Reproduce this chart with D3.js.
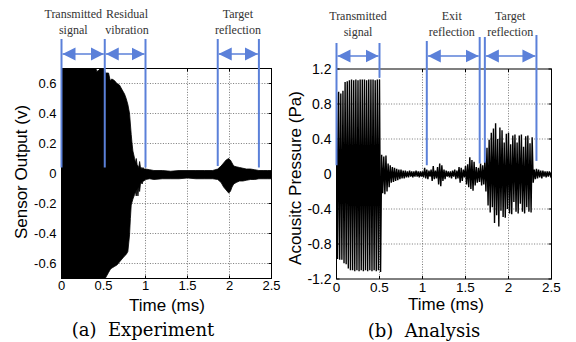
<!DOCTYPE html>
<html><head><meta charset="utf-8">
<script src="https://cdn.jsdelivr.net/npm/d3@7/dist/d3.min.js"></script>
<style>
html,body{margin:0;padding:0;background:#fff;}
svg{display:block;}
</style></head>
<body>
<svg id="chart" width="576" height="342"></svg>
<script>
// ---------- DATA ----------
// (a) Experiment: envelope of the sensor output (V) vs time (ms)
const expTime  = [0,0.40,0.42,0.45,0.47,0.50,0.52,0.56,0.58,0.60,0.63,0.66,0.69,0.72,0.75,0.77,0.79,0.81,0.82,0.83,0.84,0.85,0.87,0.88,0.89,0.90,0.91,0.92,0.93,0.94,0.95,0.96,0.97,0.98,1.00,1.05,1.10,1.20,1.30,1.40,1.50,1.60,1.70,1.80,1.86,1.90,1.93,1.96,1.99,2.01,2.03,2.05,2.08,2.12,2.16,2.20,2.25,2.30,2.35,2.40,2.45,2.50];
const expUpper = [0.72,0.72,0.68,0.69,0.72,0.72,0.67,0.67,0.62,0.63,0.62,0.60,0.59,0.56,0.53,0.50,0.46,0.40,0.33,0.26,0.20,0.15,0.10,0.07,0.10,0.06,0.05,0.04,0.08,0.04,0.04,0.03,0.04,0.03,0.03,0.025,0.02,0.02,0.015,0.02,0.02,0.02,0.02,0.02,0.03,0.05,0.07,0.09,0.10,0.09,0.07,0.05,0.045,0.04,0.035,0.03,0.03,0.025,0.02,0.02,0.02,0.02];
const expLower = [-0.72,-0.72,-0.72,-0.72,-0.72,-0.72,-0.70,-0.66,-0.64,-0.63,-0.62,-0.61,-0.59,-0.57,-0.55,-0.54,-0.52,-0.41,-0.30,-0.21,-0.19,-0.17,-0.14,-0.12,-0.15,-0.10,-0.15,-0.09,-0.12,-0.07,-0.06,-0.07,-0.05,-0.05,-0.04,-0.035,-0.04,-0.035,-0.035,-0.035,-0.03,-0.035,-0.035,-0.035,-0.04,-0.06,-0.09,-0.11,-0.13,-0.12,-0.09,-0.07,-0.06,-0.05,-0.05,-0.045,-0.04,-0.04,-0.035,-0.035,-0.035,-0.035];

// (b) Analysis: successive half-cycle peaks of acoustic pressure (Pa), one every 0.0125 ms
const pressureStep = 0.0125;
const pressure = [
 0.93,-0.97,0.94,-0.98,0.92,-0.98,0.95,-1.02,1.05,-1.03,1.06,-1.08,1.07,-1.10,1.08,-1.10,1.07,-1.11,1.08,-1.10,
 1.07,-1.11,1.08,-1.10,1.08,-1.11,1.08,-1.10,1.07,-1.11,1.08,-1.10,1.08,-1.11,1.08,-1.10,1.07,-1.11,1.08,-1.10,
 1.08,-1.12,0.22,-0.22,0.20,-0.23,0.21,-0.20,0.12,-0.15,0.10,-0.10,0.08,-0.09,0.07,-0.08,0.06,-0.07,0.05,-0.06,
 0.05,-0.05,0.04,-0.05,0.04,-0.04,0.03,-0.04,0.04,-0.03,0.03,-0.04,0.03,-0.03,0.04,-0.03,0.03,-0.04,0.03,-0.03,
 0.03,-0.04,0.07,-0.05,0.05,-0.06,0.04,-0.03,0.05,-0.08,0.09,-0.06,0.04,-0.05,0.08,-0.12,0.12,-0.14,0.10,-0.08,
 0.05,-0.06,0.04,-0.03,0.03,-0.04,0.03,-0.05,0.04,-0.03,0.05,-0.06,0.04,-0.05,0.08,-0.10,0.07,-0.08,0.05,-0.04,
 0.09,-0.12,0.11,-0.15,0.19,-0.17,0.16,-0.19,0.14,-0.13,0.08,-0.10,0.07,-0.09,0.12,-0.13,0.10,-0.12,0.15,-0.20,
 0.30,-0.36,0.39,-0.44,0.47,-0.38,0.52,-0.56,0.58,-0.47,0.40,-0.60,0.53,-0.42,0.50,-0.49,0.36,-0.50,0.46,-0.40,
 0.47,-0.45,0.34,-0.46,0.44,-0.32,0.45,-0.43,0.36,-0.45,0.44,-0.34,0.45,-0.43,0.31,-0.45,0.43,-0.38,0.44,-0.43,
 0.35,-0.44,0.42,-0.10,0.05,-0.06,0.06,-0.05,0.05,-0.04,0.04,-0.05,0.04,-0.03,0.03,-0.04,0.03,-0.03,0.03,-0.02,
 0.02
];

const xTicks = [0, 0.5, 1, 1.5, 2, 2.5];
const xTickLabels = ["0", "0.5", "1", "1.5", "2", "2.5"];
const expYTicks = [0.6, 0.4, 0.2, 0, -0.2, -0.4, -0.6];
const expYTickLabels = ["0.6", "0.4", "0.2", "0", "-0.2", "-0.4", "-0.6"];
const anaYTicks = [1.2, 0.8, 0.4, 0, -0.4, -0.8, -1.2];
const anaYTickLabels = ["1.2", "0.8", "0.4", "0", "-0.4", "-0.8", "-1.2"];

// annotation markers (time, ms) and labelled spans
const expMarkers = [0, 0.515, 1.0, 1.86, 2.35];
const expSpans = [[0, 0.515], [0.515, 1.0], [1.86, 2.35]];
const expSpanLabels = [["Transmitted", "signal"], ["Residual", "vibration"], ["Target", "reflection"]];
const expLabelTimes = [0.14, 0.78, 2.1];
const anaMarkers = [0, 0.5, 1.05, 1.665, 1.725, 2.325];
const anaSpans = [[0, 0.5], [1.05, 1.665], [1.725, 2.325]];
const anaSpanLabels = [["Transmitted", "signal"], ["Exit", "reflection"], ["Target", "reflection"]];
const anaLabelTimes = [0.25, 1.34, 2.02];

const captions = ["(a)  Experiment", "(b)  Analysis"];
const yTitles = ["Sensor Output (v)", "Acousitc Pressure (Pa)"];
const xTitle = "Time (ms)";

// ---------- DRAW ----------
const svg = d3.select("#chart");
const SANS = "'Liberation Sans', Arial, sans-serif";
const BLUE = "#5b80d9";

svg.append("defs").html(
  '<marker id="ah" viewBox="0 0 10 10" refX="10" refY="5" markerWidth="13" markerHeight="16" markerUnits="userSpaceOnUse" orient="auto-start-reverse">' +
  '<path d="M0,0 L10,5 L0,10 Z" fill="' + BLUE + '"/></marker>');

function panel(cfg) {
  const x = d3.scaleLinear().domain([0, 2.5]).range([cfg.x0, cfg.x1]);
  const y = d3.scaleLinear().domain(cfg.yDomain).range([cfg.y1, cfg.y0]);
  const g = svg.append("g");
  const cid = "clip" + cfg.id;
  svg.select("defs").append("clipPath").attr("id", cid)
    .append("rect").attr("x", cfg.x0).attr("y", cfg.y0)
    .attr("width", cfg.x1 - cfg.x0).attr("height", cfg.y1 - cfg.y0);

  // grid
  const grid = g.append("g").attr("stroke", "#555").attr("stroke-width", 0.8).attr("stroke-dasharray", "1,1.6");
  xTicks.slice(1, -1).forEach(t => grid.append("line")
    .attr("x1", x(t)).attr("x2", x(t)).attr("y1", cfg.y0).attr("y2", cfg.y1));
  cfg.yTicks.forEach(v => {
    if (v > cfg.yDomain[0] && v < cfg.yDomain[1])
      grid.append("line").attr("x1", cfg.x0).attr("x2", cfg.x1).attr("y1", y(v)).attr("y2", y(v));
  });

  // data
  const dg = g.append("g").attr("clip-path", "url(#" + cid + ")");
  cfg.drawData(dg, x, y);

  // frame + inward ticks
  g.append("rect").attr("x", cfg.x0).attr("y", cfg.y0)
    .attr("width", cfg.x1 - cfg.x0).attr("height", cfg.y1 - cfg.y0)
    .attr("fill", "none").attr("stroke", "#000").attr("stroke-width", 1);
  const tk = g.append("g").attr("stroke", "#000").attr("stroke-width", 1);
  xTicks.forEach(t => {
    tk.append("line").attr("x1", x(t)).attr("x2", x(t)).attr("y1", cfg.y1).attr("y2", cfg.y1 - 3);
    tk.append("line").attr("x1", x(t)).attr("x2", x(t)).attr("y1", cfg.y0).attr("y2", cfg.y0 + 3);
  });
  cfg.yTicks.forEach(v => {
    tk.append("line").attr("x1", cfg.x0).attr("x2", cfg.x0 + 3).attr("y1", y(v)).attr("y2", y(v));
    tk.append("line").attr("x1", cfg.x1).attr("x2", cfg.x1 - 3).attr("y1", y(v)).attr("y2", y(v));
  });

  // tick labels
  const tl = g.append("g").attr("font-family", SANS).attr("fill", "#000");
  xTicks.forEach((t, i) => tl.append("text").attr("x", x(t)).attr("y", cfg.xLabelY)
    .attr("text-anchor", "middle").attr("font-size", cfg.xTickSize).text(xTickLabels[i]));
  cfg.yTicks.forEach((v, i) => tl.append("text").attr("x", cfg.x0 - cfg.yLabelGap).attr("y", y(v))
    .attr("dy", "0.36em").attr("text-anchor", "end").attr("font-size", cfg.tickSize).text(cfg.yTickLabels[i]));

  // titles
  g.append("text").attr("x", cfg.xTitleX).attr("y", cfg.xTitleY).attr("text-anchor", "middle")
    .attr("font-family", SANS).attr("font-size", 17).text(xTitle);
  g.append("text").attr("transform", "translate(" + cfg.yTitleX + "," + cfg.yTitleY + ") rotate(-90)")
    .attr("text-anchor", "middle").attr("font-family", SANS).attr("font-size", 17).text(cfg.yTitle);
  g.append("text").attr("x", cfg.capX).attr("y", cfg.capY).attr("text-anchor", "middle")
    .attr("font-family", "'DejaVu Serif', serif").attr("font-size", 18)
    .style("white-space", "pre").text(cfg.caption);

  // annotations
  const an = g.append("g");
  cfg.markers.forEach((t, i) => an.append("line")
    .attr("x1", x(t)).attr("x2", x(t)).attr("y1", cfg.markerTop[i]).attr("y2", y(cfg.markerBottom[i]))
    .attr("stroke", BLUE).attr("stroke-width", 2));
  cfg.spans.forEach(s => an.append("line")
    .attr("x1", x(s[0]) + 1).attr("x2", x(s[1]) - 1).attr("y1", cfg.arrowY).attr("y2", cfg.arrowY)
    .attr("stroke", BLUE).attr("stroke-width", 1.5)
    .attr("marker-start", "url(#ah)").attr("marker-end", "url(#ah)"));
  cfg.labels.forEach((lab, i) => {
    an.append("text").attr("x", x(cfg.labelTimes[i])).attr("y", cfg.labelY).attr("text-anchor", "middle")
      .attr("font-family", "'Liberation Serif', serif").attr("font-size", 12).attr("fill", "#333").text(lab[0]);
    an.append("text").attr("x", x(cfg.labelTimes[i])).attr("y", cfg.labelY + 16).attr("text-anchor", "middle")
      .attr("font-family", "'Liberation Serif', serif").attr("font-size", 12).attr("fill", "#333").text(lab[1]);
  });
}

panel({
  id: "a", x0: 61.5, x1: 271.5, y0: 68.5, y1: 278.5, yDomain: [-0.7, 0.7],
  yTicks: expYTicks, yTickLabels: expYTickLabels, tickSize: 13, xTickSize: 13, yLabelGap: 5, xLabelY: 290,
  xTitleX: 167, xTitleY: 311, yTitle: yTitles[0], yTitleX: 27, yTitleY: 172,
  caption: captions[0], capX: 143, capY: 336,
  markers: expMarkers, markerTop: [39, 39, 39, 39, 39], markerBottom: [0.04, 0.04, 0.04, 0.05, 0.04],
  spans: expSpans, arrowY: 54, labels: expSpanLabels, labelTimes: expLabelTimes, labelY: 17.5,
  drawData: (dg, x, y) => {
    const pts = expTime.map((t, i) => ({t, u: expUpper[i], l: expLower[i]}));
    dg.append("path").datum(pts)
      .attr("d", d3.area().x(d => x(d.t)).y0(d => y(d.l)).y1(d => y(d.u)))
      .attr("fill", "#000").attr("stroke", "#000").attr("stroke-width", 0.8);
  }
});

panel({
  id: "b", x0: 336.5, x1: 551.5, y0: 69, y1: 279, yDomain: [-1.2, 1.2],
  yTicks: anaYTicks, yTickLabels: anaYTickLabels, tickSize: 14, xTickSize: 13.5, yLabelGap: 5, xLabelY: 292,
  xTitleX: 446, xTitleY: 309.5, yTitle: yTitles[1], yTitleX: 301, yTitleY: 178,
  caption: captions[1], capX: 424, capY: 337,
  markers: anaMarkers, markerTop: [43, 43, 41, 37, 37, 35], markerBottom: [0.1, 1.1, 0.1, 0.12, 0.13, 0.15],
  spans: anaSpans, arrowY: 56, labels: anaSpanLabels, labelTimes: anaLabelTimes, labelY: 20,
  drawData: (dg, x, y) => {
    dg.append("path").datum(pressure)
      .attr("d", d3.line().x((d, i) => x(i * pressureStep)).y(d => y(d)))
      .attr("fill", "none").attr("stroke", "#000").attr("stroke-width", 1.4);
  }
});
</script>
</body></html>
